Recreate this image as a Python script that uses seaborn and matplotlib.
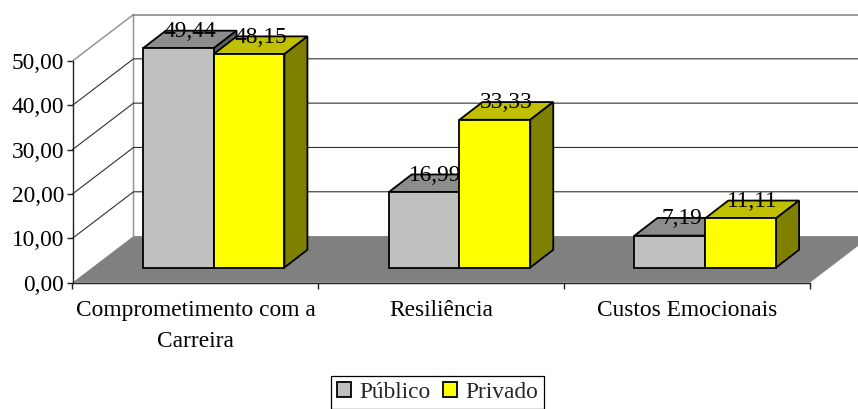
import pandas as pd
import matplotlib.pyplot as plt
from matplotlib.patches import Polygon
from matplotlib.ticker import FuncFormatter
import seaborn as sns

Categories = ["Comprometimento com a\nCarreira", "Resiliência", "Custos Emocionais"]
Series_Names = ["Público", "Privado"]
Publico = [49.44, 16.99, 7.19]
Privado = [48.15, 33.33, 11.11]
Y_Ticks = [0, 10, 20, 30, 40, 50]

Front_Colors = {"Público": "#C0C0C0", "Privado": "#FFFF00"}
Top_Colors = {"Público": "#8C8C8C", "Privado": "#C0C000"}
Side_Colors = {"Público": "#606060", "Privado": "#808000"}

W, H = 858, 409
X0, X1 = 72.5, 810.0
Y0, Y50 = 282.6, 61.0
PX_X = (X1 - X0) / 3
PX_Y = (Y0 - Y50) / 50

# profundidade do "3D", em unidades de dados
WALL_DX, WALL_DY = 61 / PX_X, 46.5 / PX_Y
BAR_DX, BAR_DY = 23 / PX_X, 17.7 / PX_Y
SHIFT_X, SHIFT_Y = 18.2 / PX_X, 15.1 / PX_Y

sns.set_theme(style="ticks")
plt.rcParams['font.family'] = ['Liberation Serif', 'DejaVu Serif']
FS = 16.8
LW = 1.3

df = pd.DataFrame({
    "Categoria": Categories * 2,
    "Grupo": [Series_Names[0]] * 3 + [Series_Names[1]] * 3,
    "Valor": Publico + Privado,
})

fig = plt.figure(figsize=(W / 100, H / 100), dpi=100, facecolor="white")
ax = fig.add_axes([X0 / W, 1 - Y0 / H, (X1 - X0) / W, (Y0 - Y50) / H])
ax.patch.set_visible(False)

sns.barplot(data=df, x="Categoria", y="Valor", hue="Grupo", hue_order=Series_Names,
            palette=Front_Colors, saturation=1, width=0.576, gap=0,
            edgecolor="black", linewidth=LW, ax=ax, zorder=5)
ax.set_xlim(-0.5, 2.5)
ax.set_ylim(0, 50)
ax.set_xlabel("")
ax.set_ylabel("")


def add_poly(points, color, edge="none", z=1):
    ax.add_patch(Polygon(points, closed=True, facecolor=color, edgecolor=edge,
                         linewidth=LW if edge != "none" else 0, clip_on=False, zorder=z))


# paredes e chao
xa, xb = -0.5, 2.5
ax.plot([xa, xa + WALL_DX, xa + WALL_DX], [50, 50 + WALL_DY, WALL_DY],
        color="#969696", lw=1.1, clip_on=False, zorder=1)
ax.plot([xa + WALL_DX, xb + WALL_DX], [50 + WALL_DY, 50 + WALL_DY],
        color="#808080", lw=1.1, clip_on=False, zorder=1)
for t in Y_Ticks[1:-1]:
    ax.plot([xa, xa + WALL_DX, xb + WALL_DX], [t, t + WALL_DY, t + WALL_DY],
            color="#303030", lw=0.8, clip_on=False, zorder=1)
add_poly([(xa, 0), (xb, 0), (xb + WALL_DX, WALL_DY), (xa + WALL_DX, WALL_DY)], "#808080", z=2)

# barras: desloca a face frontal e desenha topo e lateral
z = 3.0
for n, container in enumerate(ax.containers):
    name = Series_Names[n]
    for bar in container:
        bar.set_x(bar.get_x() + SHIFT_X)
        bar.set_y(SHIFT_Y)
        bar.set_clip_on(False)
        bar.set_zorder(z + 0.5)
        x, w, top = bar.get_x(), bar.get_width(), SHIFT_Y + bar.get_height()
        add_poly([(x, top), (x + w, top), (x + w + BAR_DX, top + BAR_DY), (x + BAR_DX, top + BAR_DY)],
                 Top_Colors[name], "black", z)
        add_poly([(x + w, SHIFT_Y), (x + w + BAR_DX, SHIFT_Y + BAR_DY),
                  (x + w + BAR_DX, top + BAR_DY), (x + w, top)],
                 Side_Colors[name], "black", z)
        ax.text(x + w / 2 + BAR_DX / 2, top + BAR_DY - 0.15, f"{bar.get_height():.2f}".replace(".", ","),
                ha="center", va="center", fontsize=FS, color="black", zorder=20, clip_on=False)
    z += 1

# eixos
ax.spines['top'].set_visible(False)
ax.spines['right'].set_visible(False)
for s in ['left', 'bottom']:
    ax.spines[s].set_color("#202020")
    ax.spines[s].set_linewidth(1.0)
    ax.spines[s].set_zorder(10)
ax.set_yticks(Y_Ticks)
ax.yaxis.set_major_formatter(FuncFormatter(lambda v, _: f"{v:.2f}".replace(".", ",")))
ax.tick_params(axis='y', length=4, width=1, color="#202020", labelsize=FS, labelcolor="black", pad=2)
ax.set_xticks([-0.5, 0.5, 1.5, 2.5], minor=True)
ax.tick_params(axis='x', which='minor', length=4, width=1, color="#202020")
ax.tick_params(axis='x', which='major', length=0, labelsize=FS, labelcolor="black", pad=12.5)
for lbl in ax.get_xticklabels():
    lbl.set_linespacing(1.6)
    lbl.set_multialignment("center")

# legenda
handles, labels = ax.get_legend_handles_labels()
leg = ax.legend(handles, labels, loc="lower center", bbox_to_anchor=(437.5 / W, 1 - 408.5 / H),
                bbox_transform=fig.transFigure, ncol=2, fontsize=FS, frameon=True, fancybox=False,
                framealpha=1, edgecolor="black", title=None, borderaxespad=0, borderpad=0.25,
                handlelength=0.62, handleheight=0.62, handletextpad=0.35, columnspacing=0.5)
leg.get_frame().set_linewidth(0.9)
leg.set_zorder(30)

plt.savefig("out.png", dpi=100)
plt.close()
